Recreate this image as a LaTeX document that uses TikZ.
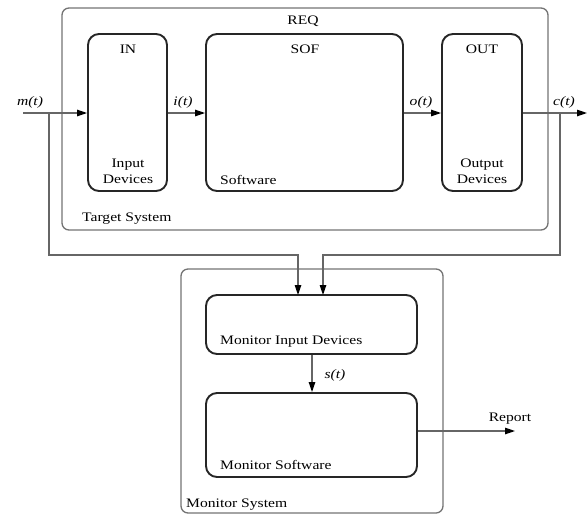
\documentclass[tikz,border=0pt]{standalone}
\usepackage{fontspec}
\setmainfont{Liberation Serif}[FakeStretch=1.2]
\usetikzlibrary{arrows.meta}
\begin{document}
\begin{tikzpicture}[x=1pt,y=-1pt,
  font=\fontsize{13}{15}\selectfont,
  outerbox/.style={draw=black!55,line width=1.3pt,rounded corners=7pt,inner sep=0pt},
  innerbox/.style={draw=black!85,line width=1.9pt,rounded corners=11pt,inner sep=0pt},
  conn/.style={draw=black!60,line width=1.2pt},
  arr/.style={conn,-{Triangle[length=10pt,width=6.5pt,color=black]}},
  lbl/.style={inner sep=0pt,text=black},
  sig/.style={lbl,font=\fontsize{13}{15}\selectfont\itshape}]
\useasboundingbox (0,0) rectangle (588,515);
% boxes
\node[outerbox,minimum width=486pt,minimum height=222pt] (tgt) at (305,119) {};
\node[innerbox,minimum width=79pt,minimum height=157pt] (in) at (127.5,112.5) {};
\node[innerbox,minimum width=197pt,minimum height=157pt] (sof) at (304.5,112.5) {};
\node[innerbox,minimum width=80pt,minimum height=157pt] (out) at (482,112.5) {};
\node[outerbox,minimum width=262pt,minimum height=244pt] (mon) at (312,391) {};
\node[innerbox,minimum width=211pt,minimum height=59pt] (mid) at (311.5,324.5) {};
\node[innerbox,minimum width=211pt,minimum height=84pt] (msw) at (311.5,435) {};
% coordinates
\coordinate (mstart) at (23,113);
\coordinate (mbr) at (49,113);
\coordinate (cend) at (587,113);
\coordinate (cbr) at (560,113);
\coordinate (rep) at (515,431);
% connectors
\draw[arr] (mstart) -- (in.west |- mstart);
\draw[arr] (in.east |- mstart) -- (sof.west |- mstart);
\draw[arr] (sof.east |- mstart) -- (out.west |- mstart);
\draw[arr] (out.east |- mstart) -- (cend);
\draw[arr] (mbr) -- (49,255) -- (298,255) -- (298,295);
\draw[arr] (cbr) -- (560,255) -- (323,255) -- (323,295);
\draw[arr] (mid.south -| 312,0) -- (msw.north -| 312,0);
\draw[arr] (msw.east |- rep) -- (rep);
% labels
\node[lbl] (req) at (303,21) {REQ};
\node[lbl] (inl) at (128,49) {IN};
\node[lbl] (sofl) at (305,49) {SOF};
\node[lbl] (outl) at (482,49) {OUT};
\node[lbl,align=center] (indev) at (128,171) {Input\\[1pt]Devices};
\node[lbl,anchor=west] (swl) at (220,180) {Software};
\node[lbl,align=center] (outdev) at (482,171) {Output\\[1pt]Devices};
\node[lbl,anchor=west] (tsl) at (82,219) {Target System};
\node[sig] (ml) at (30,102) {m(t)};
\node[sig] (il) at (183,102) {i(t)};
\node[sig] (ol) at (421,102) {o(t)};
\node[sig] (cl) at (564,102) {c(t)};
\node[lbl,anchor=west] (midl) at (220,342) {Monitor Input Devices};
\node[sig] (sl) at (335,375) {s(t)};
\node[lbl,anchor=west] (mswl) at (220,465) {Monitor Software};
\node[lbl,anchor=west] (msl) at (186,505) {Monitor System};
\node[lbl] (repl) at (510,419) {Report};
\end{tikzpicture}
\end{document}
